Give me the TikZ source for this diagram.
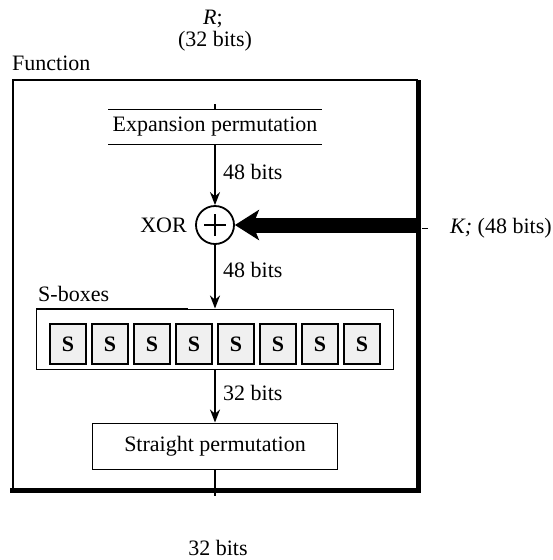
\documentclass[tikz,border=0pt]{standalone}
\usepackage{fontspec}
\setmainfont{Liberation Serif}
\usetikzlibrary{arrows.meta}
\begin{document}
\begin{tikzpicture}[x=1pt,y=-1pt,
  lbl/.style={font=\fontsize{22}{26}\selectfont, inner sep=0pt},
  flow/.style={line width=1.8pt, -{Stealth[length=13pt,width=10pt]}},
  thinframe/.style={line width=1.3pt},
  thickframe/.style={line width=5pt},
  sbox/.style={draw, line width=1.2pt, minimum width=36pt, minimum height=40pt, fill=gray!12, font=\fontsize{22}{26}\selectfont\bfseries, inner sep=0pt},
  boxlbl/.style={lbl, draw, line width=1pt, minimum width=245pt, minimum height=46pt},
]
\useasboundingbox (0,0) rectangle (553,560);
% top labels
\node[lbl] (r) at (213,19) {\textit{R};};
\node[lbl] (rbits) at (215,41) {(32 bits)};
\node[lbl, anchor=west] (fn) at (12,63) {Function};
% outer frame
\coordinate (tl) at (13,80);
\coordinate (tr) at (418,80);
\coordinate (br) at (418,490);
\coordinate (bl) at (13,490);
\coordinate (blx) at (10,490);
\draw[thinframe] (bl) -- (tl) -- (tr);
\draw[thickframe] (tr) -- (br) -- (blx);
% expansion permutation
\node[lbl, minimum width=213pt, minimum height=35pt] (exp) at (215,127) {Expansion permutation};
\draw[thinframe] (exp.north west) -- (exp.north east);
\draw[thinframe] (exp.south west) -- (exp.south east);
\coordinate (tick) at (215,104);
\draw[thinframe] (tick) -- (exp.north);
% XOR
\node[circle, draw, line width=1.8pt, minimum size=38pt, inner sep=0pt] (xor) at (215,225) {};
\draw[line width=1.8pt] ([xshift=-11pt]xor.center) -- ([xshift=11pt]xor.center);
\draw[line width=1.8pt] ([yshift=-11pt]xor.center) -- ([yshift=11pt]xor.center);
\node[lbl, anchor=east] (xorl) at (187,225) {XOR};
\draw[flow] (exp.south) -- (xor.north);
\node[lbl, anchor=west] (b48a) at (223,172) {48 bits};
% key
\coordinate (kin) at (418,225);
\draw[line width=15pt, -{Stealth[length=24pt,width=30pt,inset=6pt]}] (kin) -- (xor.east);
\coordinate (da) at (422,228);
\coordinate (db) at (428,228);
\draw[line width=1pt] (da) -- (db);
\node[lbl, anchor=west] (k) at (450,228) {\textit{K;} (48 bits)};
% S-boxes
\node[lbl, anchor=west] (sl) at (38,294) {S-boxes};
\node[draw, line width=1pt, minimum width=357pt, minimum height=60pt, inner sep=0pt] (sc) at (215,339) {};
\draw[line width=2pt] (sc.north west) -- ([xshift=152pt]sc.north west);
\foreach \i in {0,...,7} {
  \node[sbox] (s\i) at ({68+42*\i},344) {S};
}
\draw[flow] (xor.south) -- (sc.north);
\node[lbl, anchor=west] (b48b) at (223,270) {48 bits};
% straight permutation
\node[boxlbl] (sp) at (215,446) {Straight permutation};
\draw[flow] (sc.south) -- (sp.north);
\node[lbl, anchor=west] (b32a) at (223,393) {32 bits};
\coordinate (out) at (215,496);
\draw[thinframe] (sp.south) -- (out);
\node[lbl] (b32b) at (218,548) {32 bits};
\end{tikzpicture}
\end{document}
